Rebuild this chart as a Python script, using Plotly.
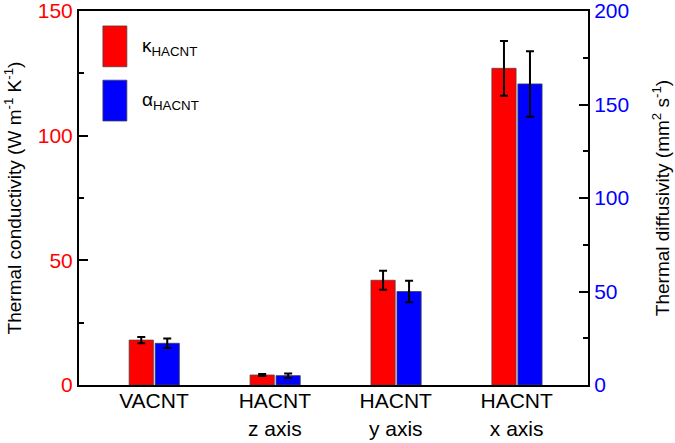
import plotly.graph_objects as go

categories = ["VACNT", "HACNT<br>z axis", "HACNT<br>y axis", "HACNT<br>x axis"]
kappa = [18.0, 4.0, 42.0, 127.0]          # W m^-1 K^-1 (left axis)
kappa_err = [1.3, 0.4, 3.8, 11.0]
alpha = [22.3, 5.0, 50.0, 161.0]          # mm^2 s^-1 (right axis)
alpha_err = [2.5, 1.2, 5.7, 17.5]

FONT = "Arial, Liberation Sans, sans-serif"
RED = "#ff0000"
BLUE = "#0000ff"

fig = go.Figure()
fig.add_trace(go.Bar(
    x=categories, y=kappa, yaxis="y", width=0.2, offset=-0.205,
    marker=dict(color=RED, line=dict(color="rgba(90,60,60,0.8)", width=1)),
    error_y=dict(type="data", array=kappa_err, color="black", thickness=2, width=4),
    showlegend=False,
))
fig.add_trace(go.Bar(
    x=categories, y=alpha, yaxis="y2", width=0.2, offset=0.01,
    marker=dict(color=BLUE, line=dict(color="rgba(60,60,90,0.8)", width=1)),
    error_y=dict(type="data", array=alpha_err, color="black", thickness=2, width=4),
    showlegend=False,
))

# legend drawn manually (tall rectangles as in the original)
fig.add_shape(type="rect", xref="paper", yref="paper", x0=0.047, x1=0.094, y0=0.851, y1=0.96,
              fillcolor=RED, line=dict(color="rgba(90,60,60,0.8)", width=1))
fig.add_shape(type="rect", xref="paper", yref="paper", x0=0.047, x1=0.094, y0=0.706, y1=0.815,
              fillcolor=BLUE, line=dict(color="rgba(60,60,90,0.8)", width=1))
fig.add_annotation(xref="paper", yref="paper", x=0.12, y=0.905, xanchor="left", yanchor="middle",
                   text="κ<sub>HACNT</sub>", showarrow=False, font=dict(family=FONT, size=19, color="black"))
fig.add_annotation(xref="paper", yref="paper", x=0.12, y=0.76, xanchor="left", yanchor="middle",
                   text="α<sub>HACNT</sub>", showarrow=False, font=dict(family=FONT, size=19, color="black"))

fig.update_layout(
    width=675, height=443,
    margin=dict(l=79, r=87, t=11, b=58),
    paper_bgcolor="white", plot_bgcolor="white",
    barmode="overlay",
    font=dict(family=FONT, color="black"),
    xaxis=dict(
        type="category", range=[-0.62, 3.59], automargin=False,
        showline=True, linecolor="black", linewidth=2, mirror=True,
        ticks="", showgrid=False, zeroline=False, ticklabelstandoff=-4,
        tickfont=dict(family=FONT, size=21, color="black"),
    ),
    yaxis=dict(
        range=[0, 150], dtick=50, showgrid=False, zeroline=False, automargin=False,
        showline=True, linecolor="black", linewidth=2, ticklabeloverflow="allow",
        ticks="inside", ticklen=9, tickwidth=2, tickcolor="black",
        minor=dict(ticks="inside", ticklen=5, tickwidth=2, dtick=25, tickcolor="black"),
        tickfont=dict(family=FONT, size=21, color=RED),
        title=dict(text="Thermal conductivity (W m<sup>-1</sup> K<sup>-1</sup>)",
                   font=dict(family=FONT, size=19, color="black"), standoff=11),
    ),
    yaxis2=dict(
        overlaying="y", side="right", anchor="x", automargin=False,
        range=[0, 200], dtick=50, showgrid=False, zeroline=False,
        showline=True, linecolor="black", linewidth=2, ticklabeloverflow="allow",
        ticks="inside", ticklen=9, tickwidth=2, tickcolor="black",
        minor=dict(ticks="inside", ticklen=5, tickwidth=2, dtick=25, tickcolor="black"),
        tickfont=dict(family=FONT, size=21, color=BLUE),
        title=dict(text="Thermal diffusivity (mm<sup>2</sup> s<sup>-1</sup>)",
                   font=dict(family=FONT, size=19, color="black"), standoff=27),
    ),
)

fig.write_html("out.html", config={"displayModeBar": False},
               post_script="document.body.style.margin='0';")
